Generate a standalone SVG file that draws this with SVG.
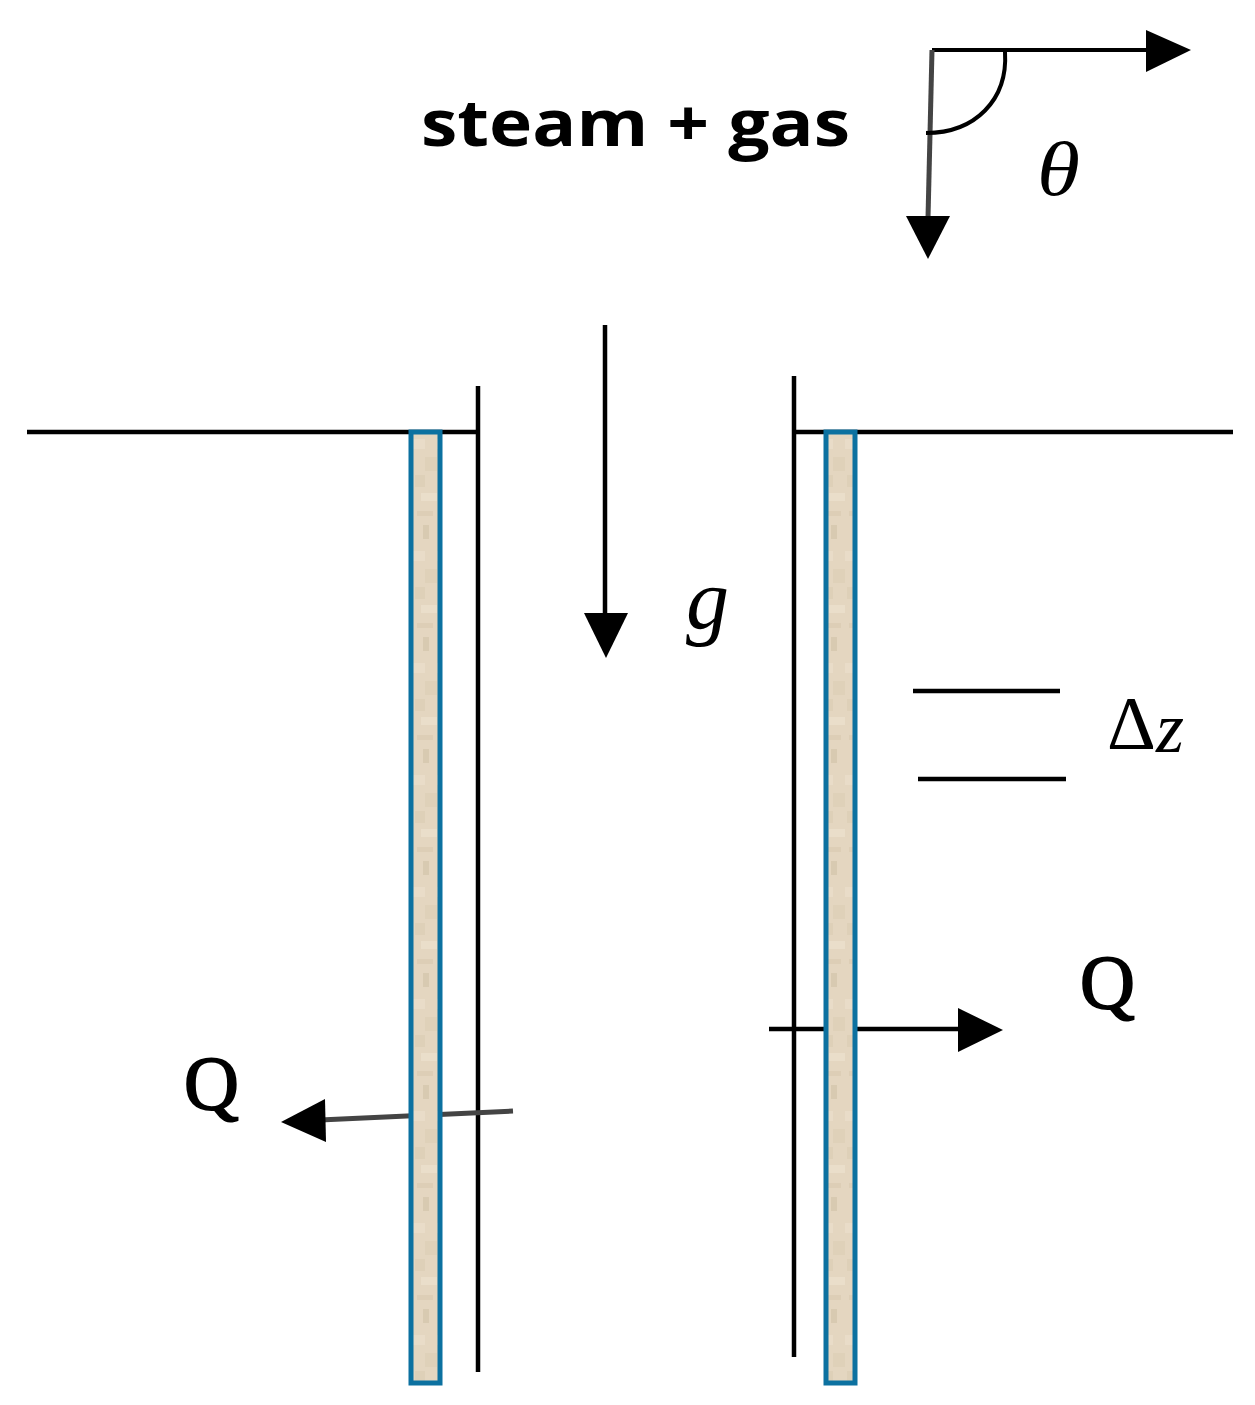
<svg xmlns="http://www.w3.org/2000/svg" width="1255" height="1405" viewBox="0 0 1255 1405">
<style>
.ln{stroke:#000;stroke-width:4.5;fill:none}
.thin{stroke:#000;stroke-width:4;fill:none}
.grey{stroke:#444;stroke-width:5;fill:none}
.ah{fill:#000;stroke:none}
.wall{fill:url(#tex);stroke:#0C71A0;stroke-width:5}
.q{font-family:"Liberation Serif",serif;font-size:76px;fill:#000;stroke:#000;stroke-width:1.8}
.it{font-family:"Liberation Serif",serif;font-style:italic;fill:#000}
.up{font-family:"Liberation Serif",serif;fill:#000}
</style>
<defs>
<pattern id="tex" patternUnits="userSpaceOnUse" x="413" y="433" width="24" height="112">
<rect width="24" height="112" fill="#E4D6C0"/>
<rect x="0" y="6" width="12" height="10" fill="#E9DCC8"/>
<rect x="12" y="24" width="12" height="14" fill="#DFD1B9"/>
<rect x="2" y="42" width="10" height="12" fill="#DED0B8"/>
<rect x="8" y="60" width="16" height="8" fill="#EADECA"/>
<rect x="4" y="78" width="16" height="5" fill="#DDCEB6"/>
<rect x="10" y="92" width="6" height="14" fill="#D8CAB1"/>
</pattern>
</defs>
<g id="surface-lines">
<line class="ln" x1="27" y1="432" x2="478" y2="432"/>
<line class="ln" x1="794" y1="432" x2="1233" y2="432"/>
</g>
<g id="left-channel-wall"><line class="ln" x1="478" y1="386" x2="478" y2="1372"/></g>
<g id="right-channel-wall"><line class="ln" x1="794" y1="376" x2="794" y2="1357"/></g>
<g id="connectors">
<path class="thin" d="M932 50H1152"/>
<path class="ah" d="M1146 30L1191 50L1146 72Z"/>
<path class="grey" d="M932 50L928 218"/>
<path class="ah" d="M906 216H950L928 259Z"/>
<path class="thin" d="M1005 52C1008 100 975 133 926 133"/>
<line class="ln" x1="605" y1="325" x2="605" y2="616"/>
<path class="ah" d="M584 613H628L606 658Z"/>
<line class="ln" x1="769" y1="1029" x2="962" y2="1029"/>
<path class="ah" d="M958 1008L1003 1030L958 1052Z"/>
<path class="grey" d="M513 1111L320 1120"/>
<path class="ah" d="M325 1099L281 1122L326 1142Z"/>
<line class="ln" x1="913" y1="691" x2="1060" y2="691"/>
<line class="ln" x1="918" y1="779" x2="1066" y2="779"/>
</g>
<g id="left-wall"><rect class="wall" x="411" y="432" width="29" height="951"/></g>
<g id="right-wall"><rect class="wall" x="826" y="432" width="29" height="951"/></g>
<g id="labels">
<text x="421" y="146" font-family="'Open Sans',sans-serif" font-weight="bold" font-size="64" textLength="429" lengthAdjust="spacingAndGlyphs" fill="#000">steam + gas</text>
<text class="it" x="1037" y="195" font-size="76" textLength="43" lengthAdjust="spacingAndGlyphs">θ</text>
<text class="it" x="686" y="628" font-size="86">g</text>
<text class="up" x="1107" y="749" font-size="76">Δ</text>
<text class="it" x="1156" y="752" font-size="72">z</text>
<text class="q" x="1080" y="1008">Q</text>
<text class="q" x="184" y="1109">Q</text>
</g>
</svg>
